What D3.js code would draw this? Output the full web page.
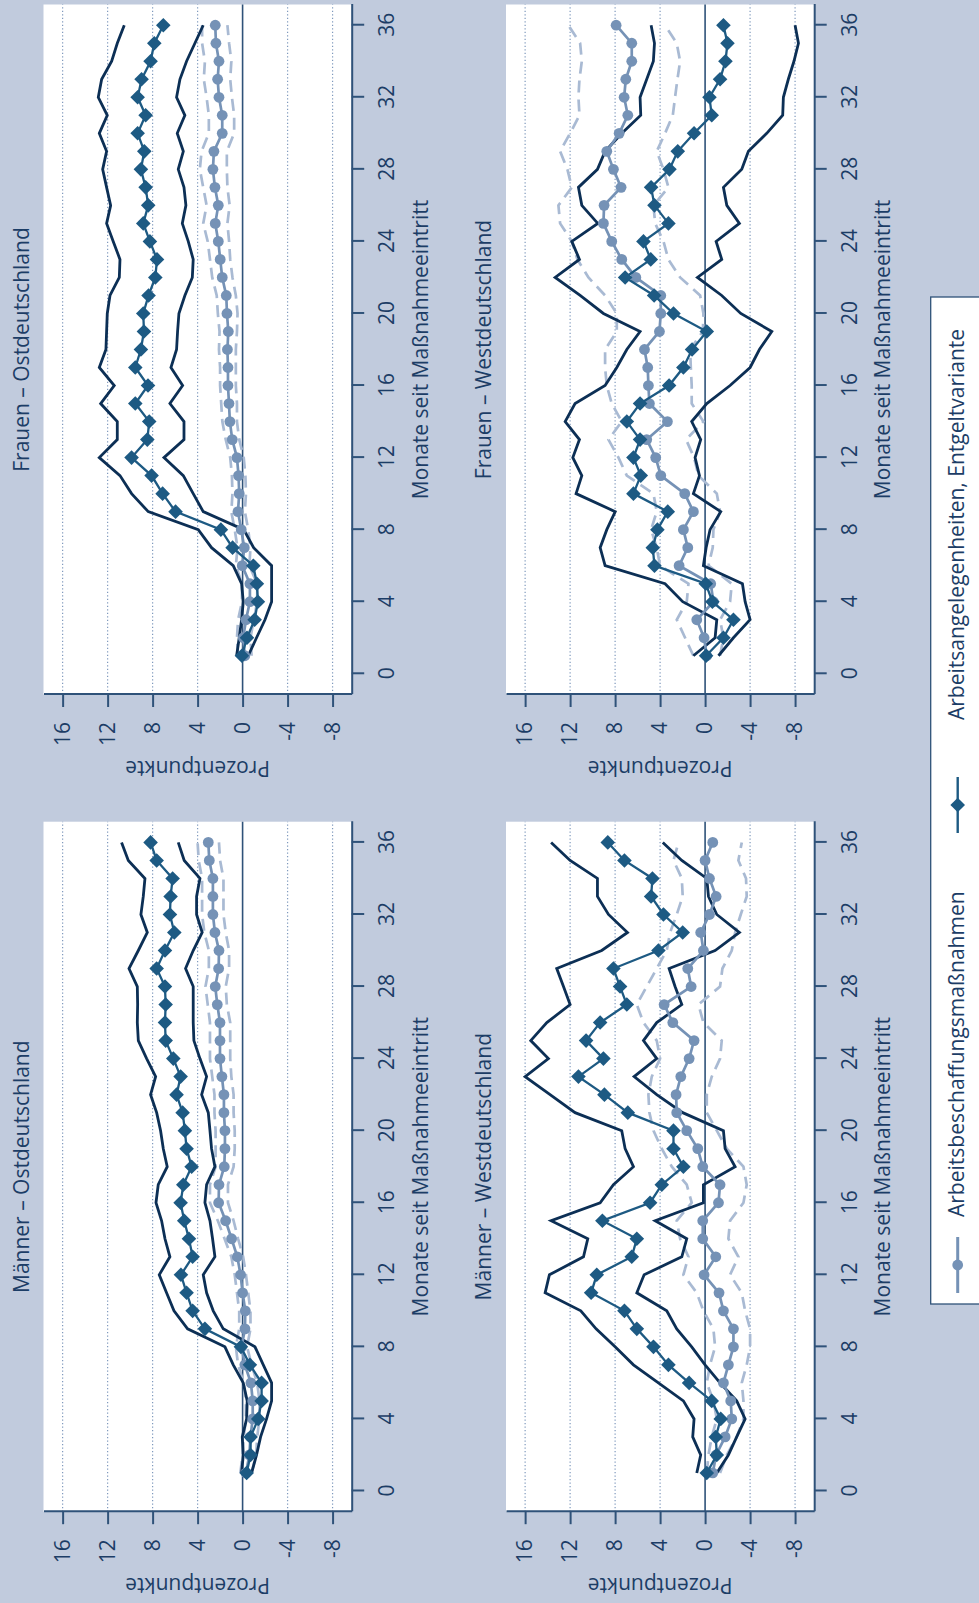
<!DOCTYPE html>
<html>
<head>
<meta charset="utf-8">
<script src="https://cdn.jsdelivr.net/npm/d3@7"></script>
<style>
    body { margin: 0; background: #c1cbdd; }
    svg text { font-family: "Open Sans", "Noto Sans", sans-serif; }
</style>
</head>
<body>
<svg id="chart" width="979" height="1603"></svg>
<script>
// months since programme entry
const months = [1, 2, 3, 4, 5, 6, 7, 8, 9, 10, 11, 12, 13, 14, 15, 16, 17, 18,
    19, 20, 21, 22, 23, 24, 25, 26, 27, 28, 29, 30, 31, 32, 33, 34, 35, 36];
const monthTicks = [0, 4, 8, 12, 16, 20, 24, 28, 32, 36];
const valueTicks = [16, 12, 8, 4, 0, -4, -8];

// Männer – Ostdeutschland
const mOstAbm = [-0.3, -0.6, -0.7, -0.9, -0.9, -0.74, -0.2, 0.09, -0.21, -0.24, 0.0, 0.18, 0.47, 0.98, 1.51, 2.13, 2.1, 1.63,
    1.57, 1.57, 1.66, 1.66, 1.84, 2.01, 2.01, 2.01, 2.25, 2.43, 2.13, 2.1, 2.46, 2.64, 2.64, 2.64, 2.96, 3.05];
const mOstAbmHi = [0.2, 0.0, -0.1, -0.3, -0.3, -0.1, 0.4, 0.6, 0.3, 0.3, 0.5, 0.7, 1.0, 1.6, 2.2, 2.9, 2.9, 2.4,
    2.4, 2.4, 2.5, 2.5, 2.7, 2.9, 2.9, 2.9, 3.1, 3.3, 3.0, 3.0, 3.4, 3.6, 3.6, 3.6, 3.9, 4.0];
const mOstAbmLo = [-0.8, -1.2, -1.3, -1.5, -1.5, -1.3, -0.8, -0.4, -0.7, -0.7, -0.5, -0.3, -0.05, 0.4, 0.8, 1.3, 1.3, 0.8,
    0.7, 0.7, 0.8, 0.8, 1.0, 1.1, 1.1, 1.1, 1.4, 1.5, 1.2, 1.2, 1.5, 1.7, 1.7, 1.7, 2.0, 2.1];
const mOstEnt = [-0.36, -0.71, -0.71, -1.39, -1.69, -1.69, -0.65, 0.15, 3.35, 4.44, 4.98, 5.48, 4.44, 4.77, 5.19, 5.51, 5.27, 4.53,
    4.98, 5.13, 5.33, 5.87, 5.51, 6.16, 6.84, 6.9, 6.84, 6.9, 7.64, 6.9, 6.07, 6.46, 6.4, 6.22, 7.64, 8.18];
const mOstEntHi = [0.09, -0.06, 0.03, -0.36, -0.41, -0.06, 0.83, 1.57, 4.89, 6.1, 6.76, 7.41, 6.46, 6.9, 7.2, 7.7, 7.5, 6.7,
    7.05, 7.29, 7.64, 8.18, 7.73, 8.53, 9.27, 9.36, 9.33, 9.36, 10.1, 9.27, 8.47, 9.04, 8.83, 8.68, 10.16, 10.76];
const mOstEntLo = [-0.8, -1.24, -1.6, -2.13, -2.58, -2.58, -1.84, -1.1, 1.72, 2.61, 3.2, 3.5, 2.46, 2.67, 2.9, 3.35, 3.2, 2.46,
    2.76, 2.9, 3.05, 3.64, 3.2, 3.79, 4.33, 4.39, 4.39, 4.39, 5.07, 4.39, 3.59, 4.09, 4.09, 3.79, 5.19, 5.72];

// Frauen – Ostdeutschland
const fOstAbm = [-0.2, -0.06, -0.3, -0.65, -0.65, 0.03, -0.15, 0.12, 0.41, 0.3, 0.36, 0.5, 0.92, 1.13, 1.21, 1.3, 1.3, 1.35,
    1.27, 1.39, 1.45, 1.81, 1.99, 2.16, 2.43, 2.16, 2.46, 2.64, 2.55, 1.81, 1.81, 2.1, 2.22, 2.1, 2.37, 2.43];
const fOstAbmHi = [0.4, 0.5, 0.4, 0.05, 0.05, 0.6, 0.45, 0.7, 1.0, 0.9, 0.95, 1.1, 1.5, 1.8, 1.9, 2.0, 2.0, 2.1,
    2.05, 2.2, 2.3, 2.7, 2.9, 3.1, 3.5, 3.2, 3.5, 3.8, 3.65, 3.0, 3.0, 3.2, 3.45, 3.35, 3.6, 3.6];
const fOstAbmLo = [-0.8, -0.7, -1.0, -1.3, -1.3, -0.6, -0.7, -0.5, -0.2, -0.3, -0.25, -0.1, 0.3, 0.5, 0.5, 0.6, 0.6, 0.6,
    0.5, 0.45, 0.6, 0.9, 1.1, 1.2, 1.35, 1.15, 1.35, 1.4, 1.4, 0.75, 0.75, 0.95, 1.1, 1.0, 1.2, 1.35];
const fOstEnt = [0.06, -0.39, -1.07, -1.36, -1.27, -0.95, 0.89, 1.93, 5.96, 7.11, 8.09, 9.87, 8.47, 8.3, 9.54, 8.41, 9.54, 9.04,
    8.77, 8.83, 8.36, 7.76, 7.61, 8.24, 8.83, 8.39, 8.62, 9.04, 8.74, 9.33, 8.62, 9.33, 8.98, 8.18, 7.85, 7.05];
const fOstEntHi = [0.53, 0.3, 0.09, -0.06, 0.09, 0.83, 2.76, 3.94, 8.39, 9.87, 10.9, 12.74, 11.14, 11.14, 12.62, 11.41, 12.74, 12.15,
    12.09, 12.03, 11.79, 10.96, 10.9, 11.5, 12.09, 11.73, 12.09, 12.44, 12.09, 12.74, 12.03, 12.83, 12.53, 11.64, 11.14, 10.52];
const fOstEntLo = [-0.5, -1.24, -1.99, -2.58, -2.58, -2.58, -0.98, -0.1, 3.5, 4.39, 5.27, 6.99, 5.21, 5.21, 6.46, 5.33, 6.37, 5.87,
    5.78, 5.66, 5.13, 4.47, 4.39, 4.83, 5.36, 5.04, 5.21, 5.72, 5.27, 5.81, 5.13, 5.87, 5.57, 4.98, 4.24, 3.5];

// Männer – Westdeutschland
const mWestAbm = [-0.68, -0.98, -1.78, -2.37, -2.28, -1.63, -2.07, -2.52, -2.52, -1.63, -1.24, 0.09, -0.95, 0.21, 0.21, -1.19, -1.33, 0.21,
    0.65, 1.63, 2.52, 2.58, 2.16, 1.42, 0.98, 2.87, 3.64, 1.24, 1.54, 0.15, 0.39, -0.39, -0.98, -0.39, 0.0, -0.68];
const mWestAbmHi = [-0.15, -0.3, -0.59, -1.04, -0.74, -0.15, -0.44, -0.89, -0.74, 0.15, 0.74, 1.93, 1.48, 2.22, 2.52, 1.19, 1.63, 2.96,
    3.85, 4.59, 4.95, 5.04, 4.74, 4.0, 4.3, 5.48, 6.07, 5.19, 4.3, 3.41, 3.11, 2.52, 1.99, 2.07, 2.81, 2.37];
const mWestAbmLo = [-1.33, -1.93, -2.81, -3.41, -3.41, -3.26, -3.7, -4.0, -4.0, -3.56, -3.26, -2.22, -2.96, -2.07, -2.22, -3.41, -3.7, -3.41,
    -1.93, -1.04, -0.15, -0.15, -0.59, -1.33, -1.48, 0.15, 0.59, -1.33, -1.54, -2.37, -2.67, -3.17, -3.7, -3.64, -2.96, -3.26];
const mWestEnt = [-0.15, -1.04, -0.95, -1.39, -0.59, 1.42, 3.26, 4.59, 6.07, 7.17, 10.13, 9.63, 6.52, 6.07, 9.13, 4.89, 3.85, 1.93,
    2.81, 2.81, 6.87, 8.95, 11.26, 9.04, 10.58, 9.33, 6.96, 7.56, 8.15, 4.15, 1.99, 3.7, 4.8, 4.68, 7.17, 8.65];
const mWestEntHi = [0.74, 0.39, 1.1, 0.98, 1.93, 4.15, 6.37, 8.0, 9.69, 11.05, 14.22, 13.84, 10.81, 10.43, 13.69, 9.33, 8.15, 6.37,
    7.11, 7.41, 11.56, 13.78, 16.0, 13.93, 15.5, 14.07, 12.0, 12.59, 13.19, 9.19, 6.9, 8.59, 9.57, 9.57, 12.0, 13.69];
const mWestEntLo = [-1.04, -2.07, -2.81, -3.56, -2.81, -1.33, 0.0, 1.19, 2.52, 3.41, 6.07, 5.42, 2.07, 1.63, 4.44, 0.15, 0.15, -2.67,
    -1.78, -1.63, 1.99, 4.3, 6.31, 4.3, 5.48, 4.3, 2.07, 2.67, 3.2, -0.89, -3.05, -1.04, -0.3, -0.15, 2.07, 3.76];

// Frauen – Westdeutschland
const fWestAbm = [-0.15, 0.09, 0.74, -0.74, -0.5, 2.31, 1.54, 1.93, 1.04, 1.81, 3.94, 4.39, 5.19, 3.35, 4.95, 5.04, 5.1, 5.39,
    4.06, 3.94, 3.94, 6.16, 7.41, 8.3, 9.04, 8.98, 7.47, 8.15, 8.74, 7.64, 6.87, 7.2, 7.05, 6.52, 6.52, 7.91];
const fWestAbmHi = [1.04, 1.78, 2.52, 1.63, 1.48, 4.0, 4.3, 4.8, 4.3, 4.59, 6.96, 7.7, 8.59, 7.41, 8.3, 8.74, 8.89, 8.89,
    7.85, 7.85, 8.89, 10.37, 11.35, 11.85, 12.89, 13.04, 11.85, 12.24, 12.89, 12.0, 11.17, 11.26, 11.17, 10.96, 11.11, 12.15];
const fWestAbmLo = [-1.33, -1.63, -1.33, -2.22, -2.37, -0.3, -0.68, -0.74, -1.33, -1.04, 0.59, 0.98, 1.69, 0.15, 1.19, 1.19, 1.27, 1.33,
    0.2, 0.15, 0.44, 2.22, 3.26, 3.7, 4.44, 4.59, 3.26, 3.7, 4.3, 3.56, 2.87, 2.67, 2.46, 2.22, 2.52, 3.56];
const fWestEnt = [-0.09, -1.63, -2.52, -0.65, -0.06, 4.5, 4.65, 4.24, 3.32, 6.37, 5.72, 6.37, 5.78, 6.96, 5.78, 3.2, 1.93, 1.16,
    -0.15, 2.81, 4.53, 7.11, 4.83, 5.48, 3.26, 4.5, 4.8, 3.17, 2.43, 0.98, -0.59, -0.39, -1.33, -1.81, -1.99, -1.63];
const fWestEntHi = [1.04, -0.89, -1.04, 1.99, 3.56, 8.89, 9.33, 8.74, 7.99, 11.47, 10.96, 11.76, 11.17, 12.44, 11.56, 8.89, 7.85, 6.96,
    5.78, 9.04, 11.11, 13.33, 11.17, 11.85, 9.54, 10.96, 11.26, 9.57, 8.89, 7.4, 5.72, 5.78, 5.19, 4.6, 4.5, 4.8];
const fWestEntLo = [-1.19, -2.52, -4.0, -3.56, -3.32, 0.15, -0.09, -0.44, -1.39, 1.04, 0.5, 0.89, 0.39, 1.19, -0.15, -2.22, -4.0, -4.83,
    -5.93, -3.17, -1.48, 0.68, -1.48, -0.98, -3.05, -1.93, -1.63, -3.26, -3.85, -5.48, -6.9, -6.96, -7.4, -7.9, -8.3, -8.0];

const legendLabels = ["Arbeitsbeschaffungsmaßnahmen", "Arbeitsangelegenheiten, Entgeltvariante"];

const bgColor = "#c1cbdd";
const textColor = "#1c3d66";
const axisColor = "#2f5279";
const gridColor = "#7f99bd";
const abmColor = "#7592b6";
const abmCiColor = "#a9bad3";
const entColor = "#1d5a83";
const entCiColor = "#0c2f55";

const svg = d3.select("#chart");
const W = 1603;          // width of the figure before it is turned
const pw = 690, ph = 308.2;

svg.append("rect").attr("width", 979).attr("height", 1603).attr("fill", bgColor);

// whole figure is drawn upright, then turned a quarter to the left
const root = svg.append("g").attr("transform", `translate(0,${W}) rotate(-90)`);

const x = d3.scaleLinear().domain([-1.15, 37.15]).range([0, pw]);
const y = d3.scaleLinear().domain([-9.7, 17.7]).range([ph, 0]);
const line = d3.line().x((d, i) => x(months[i])).y(d => y(d));

const panels = [
    { title: "Männer – Ostdeutschland", left: 91.3, top: 43.5,
        abm: mOstAbm, abmHi: mOstAbmHi, abmLo: mOstAbmLo, ent: mOstEnt, entHi: mOstEntHi, entLo: mOstEntLo },
    { title: "Frauen – Ostdeutschland", left: 908.5, top: 43.5,
        abm: fOstAbm, abmHi: fOstAbmHi, abmLo: fOstAbmLo, ent: fOstEnt, entHi: fOstEntHi, entLo: fOstEntLo },
    { title: "Männer – Westdeutschland", left: 91.3, top: 506,
        abm: mWestAbm, abmHi: mWestAbmHi, abmLo: mWestAbmLo, ent: mWestEnt, entHi: mWestEntHi, entLo: mWestEntLo },
    { title: "Frauen – Westdeutschland", left: 908.5, top: 506,
        abm: fWestAbm, abmHi: fWestAbmHi, abmLo: fWestAbmLo, ent: fWestEnt, entHi: fWestEntHi, entLo: fWestEntLo }
];

const diamond = s => `M0,${-s}L${s},0L0,${s}L${-s},0Z`;

panels.forEach(p => {
    const g = root.append("g").attr("transform", `translate(${p.left},${p.top})`);

    g.append("rect").attr("width", pw).attr("height", ph).attr("fill", "#fff");

    // dotted grid
    g.selectAll("line.grid")
        .data(valueTicks.filter(t => t !== 0))
        .join("line")
        .attr("class", "grid")
        .attr("x1", 0).attr("x2", pw)
        .attr("y1", d => y(d)).attr("y2", d => y(d))
        .attr("stroke", gridColor)
        .attr("stroke-width", 1.2)
        .attr("stroke-dasharray", "1.2,2.3");

    g.append("line")
        .attr("x1", 0).attr("x2", pw)
        .attr("y1", y(0)).attr("y2", y(0))
        .attr("stroke", axisColor)
        .attr("stroke-width", 1.6);

    // axes
    const yAxis = g.append("g")
        .call(d3.axisLeft(y).tickValues(valueTicks).tickFormat(d => String(d))
            .tickSize(12.5).tickSizeOuter(0).tickPadding(15));
    const xAxis = g.append("g")
        .attr("transform", `translate(0,${ph})`)
        .call(d3.axisBottom(x).tickValues(monthTicks).tickFormat(d => String(d))
            .tickSize(12.5).tickSizeOuter(0).tickPadding(15));
    [yAxis, xAxis].forEach(a => {
        a.attr("font-family", null).attr("font-size", null);
        a.select(".domain").attr("stroke", axisColor).attr("stroke-width", 2);
        a.selectAll(".tick line").attr("stroke", axisColor).attr("stroke-width", 2);
        a.selectAll("text").attr("fill", textColor).style("font-size", "21px");
    });

    // confidence bands
    [p.abmHi, p.abmLo].forEach(s => {
        g.append("path").datum(s)
            .attr("d", line)
            .attr("fill", "none")
            .attr("stroke", abmCiColor)
            .attr("stroke-width", 2.7)
            .attr("stroke-dasharray", "12,7");
    });
    [p.entHi, p.entLo].forEach(s => {
        g.append("path").datum(s)
            .attr("d", line)
            .attr("fill", "none")
            .attr("stroke", entCiColor)
            .attr("stroke-width", 2.8);
    });

    // ABM
    g.append("path").datum(p.abm)
        .attr("d", line)
        .attr("fill", "none")
        .attr("stroke", abmColor)
        .attr("stroke-width", 2.7);
    g.selectAll("circle.abm")
        .data(p.abm)
        .join("circle")
        .attr("class", "abm")
        .attr("cx", (d, i) => x(months[i]))
        .attr("cy", d => y(d))
        .attr("r", 5.4)
        .attr("fill", abmColor);

    // Entgeltvariante
    g.append("path").datum(p.ent)
        .attr("d", line)
        .attr("fill", "none")
        .attr("stroke", entColor)
        .attr("stroke-width", 2.3);
    g.selectAll("path.ent")
        .data(p.ent)
        .join("path")
        .attr("class", "ent")
        .attr("d", diamond(7.3))
        .attr("transform", (d, i) => `translate(${x(months[i])},${y(d)})`)
        .attr("fill", entColor);

    // texts
    root.append("text")
        .attr("x", p.left + pw / 2)
        .attr("y", p.top - 15)
        .attr("text-anchor", "middle")
        .attr("fill", textColor)
        .style("font-size", "21px")
        .text(p.title);

    root.append("text")
        .attr("x", p.left + pw / 2)
        .attr("y", p.top + ph + 76)
        .attr("text-anchor", "middle")
        .attr("fill", textColor)
        .style("font-size", "21px")
        .text("Monate seit Maßnahmeeintritt");

    root.append("text")
        .attr("transform", `translate(${p.left - 66},${p.top + ph / 2}) rotate(-90)`)
        .attr("text-anchor", "middle")
        .attr("fill", textColor)
        .style("font-size", "21px")
        .text("Prozentpunkte");
});

// legend
const legend = root.append("g");
legend.append("rect")
    .attr("x", 299).attr("y", 930.7)
    .attr("width", 1007).attr("height", 80)
    .attr("fill", "#fff")
    .attr("stroke", axisColor)
    .attr("stroke-width", 1.3);

const legendItems = [
    { label: legendLabels[0], at: 310, color: abmColor, mark: "circle", textAt: 386 },
    { label: legendLabels[1], at: 770, color: entColor, mark: "diamond", textAt: 883 }
];
legendItems.forEach(it => {
    legend.append("line")
        .attr("x1", it.at).attr("x2", it.at + 56)
        .attr("y1", 957.7).attr("y2", 957.7)
        .attr("stroke", it.color)
        .attr("stroke-width", it.mark === "circle" ? 3 : 2.4);
    if (it.mark === "circle") {
        legend.append("circle").attr("cx", it.at + 28).attr("cy", 957.7).attr("r", 5.4).attr("fill", it.color);
    } else {
        legend.append("path").attr("d", diamond(7.3))
            .attr("transform", `translate(${it.at + 28},957.7)`)
            .attr("fill", it.color);
    }
    legend.append("text")
        .attr("x", it.textAt).attr("y", 964)
        .attr("fill", textColor)
        .style("font-size", "21px")
        .text(it.label);
});
</script>
</body>
</html>
